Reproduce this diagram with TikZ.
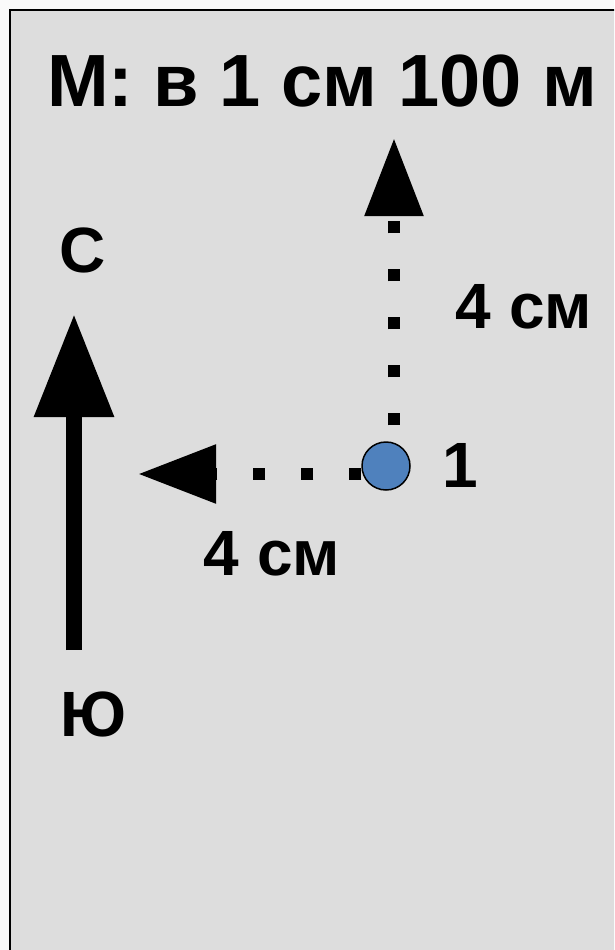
\documentclass[tikz,border=0pt]{standalone}
\usepackage{fontspec}
\setmainfont{Liberation Sans}
\usetikzlibrary{arrows.meta}
\definecolor{paper}{HTML}{FAFAFA}
\definecolor{sheet}{HTML}{DDDDDD}
\definecolor{ink}{HTML}{000000}
\definecolor{spot}{HTML}{4F81BD}
\tikzset{
  frame/.style={draw=ink, line width=2pt, fill=sheet},
  shaft/.style={draw=ink, line width=16pt, -{Triangle[length=103pt,width=76pt]}},
  dotline/.style={draw=ink, line width=12pt, dash pattern=on 12pt off 36pt, -{Triangle[length=78pt,width=56pt]}},
  spotnode/.style={circle, draw=ink, line width=1.5pt, fill=spot, minimum size=48pt, inner sep=0pt},
  lab/.style={text=ink, font=\fontsize{64}{64}\selectfont\bfseries, inner sep=0pt, anchor=base},
  titlelab/.style={lab, font=\fontsize{74}{74}\selectfont\bfseries},
}
\begin{document}
\begin{tikzpicture}[x=1pt,y=-1pt]
  \useasboundingbox[fill=paper] (0,0) rectangle (614,950);
  \clip (0,0) rectangle (614,950);
  \draw[frame] (10,10) rectangle (630,970);
  \node[titlelab] (scale) at (322,106) {М: в 1 см 100 м};
  % compass
  \coordinate (compS) at (74,650);
  \coordinate (compN) at (74,314);
  \draw[shaft] (compS) -- (compN);
  \node[lab] (nlab) at (83,272) {С};
  \node[lab] (slab) at (93,736) {Ю};
  % point and the two steps
  \node[spotnode] (p1) at (386,466) {};
  \node[lab] (p1lab) at (460,487) {1};
  \coordinate (upEnd) at (394,138);
  \coordinate (leftEnd) at (138,474);
  \draw[dotline, dash phase=32pt] (p1.north -| upEnd) -- (upEnd);
  \draw[dotline] (p1.west |- leftEnd) -- (leftEnd);
  \node[lab] (uplab) at (524,328) {4 см};
  \node[lab] (leftlab) at (272,575) {4 см};
\end{tikzpicture}
\end{document}
